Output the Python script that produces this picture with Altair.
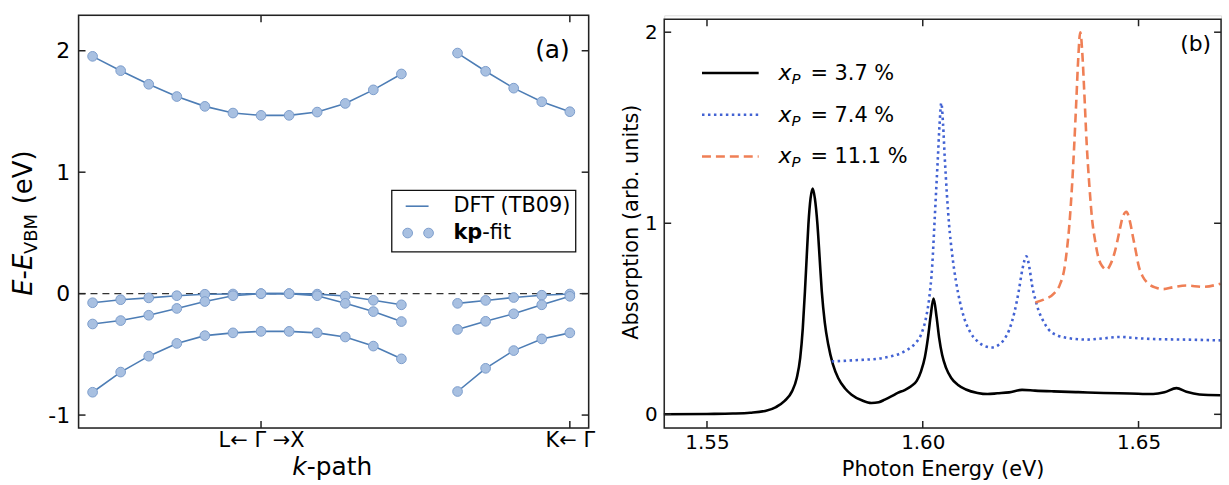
import altair as alt
import pandas as pd

FONT = "DejaVu Sans"

# ---------------- panel (a): band structure ----------------
k_left = [0, 1, 2, 3, 4, 5, 6, 7, 8, 9, 10, 11]
k_right = [13, 14, 15, 16, 17]

cb_left = [1.954, 1.836, 1.724, 1.623, 1.542, 1.487, 1.468, 1.468, 1.495, 1.566, 1.678, 1.809]
cb_right = [1.981, 1.831, 1.692, 1.580, 1.498]
hh_left = [-0.075, -0.050, -0.035, -0.017, -0.005, -0.003, 0.0, 0.0, -0.004, -0.020, -0.055, -0.092]
hh_right = [-0.080, -0.056, -0.032, -0.013, -0.003]
lh_left = [-0.250, -0.222, -0.178, -0.122, -0.065, -0.017, 0.0, 0.0, -0.017, -0.080, -0.148, -0.230]
lh_right = [-0.295, -0.228, -0.166, -0.092, -0.022]
so_left = [-0.812, -0.646, -0.515, -0.410, -0.346, -0.323, -0.311, -0.311, -0.323, -0.357, -0.432, -0.537]
so_right = [-0.806, -0.615, -0.469, -0.373, -0.323]

a_yticks = [-1, 0, 1, 2]
a_xticks = [6, 17]

rows = []
for name, ks, es in [("cbL", k_left, cb_left), ("cbR", k_right, cb_right),
                     ("hhL", k_left, hh_left), ("hhR", k_right, hh_right),
                     ("lhL", k_left, lh_left), ("lhR", k_right, lh_right),
                     ("soL", k_left, so_left), ("soR", k_right, so_right)]:
    for k, e in zip(ks, es):
        rows.append({"band": name, "k": k, "E": e})
df_a = pd.DataFrame(rows)

# ---------------- panel (b): absorption ----------------
x_37 = [1.5400, 1.5500, 1.5560, 1.5600, 1.5635, 1.5660, 1.5680, 1.5697, 1.5708, 1.5716,
        1.5722, 1.5727, 1.5731, 1.5735, 1.5740, 1.5745, 1.5750, 1.5756, 1.5761, 1.5766,
        1.5773, 1.5781, 1.5792, 1.5804, 1.5820, 1.5835, 1.5860, 1.5881, 1.5898, 1.5912,
        1.5928, 1.5942, 1.5958, 1.5973, 1.5986, 1.5996, 1.6005, 1.6012, 1.6018, 1.6025,
        1.6032, 1.6038, 1.6045, 1.6054, 1.6066, 1.6081, 1.6100, 1.6127, 1.6150, 1.6173,
        1.6200, 1.6230, 1.6260, 1.6303, 1.6360, 1.6419, 1.6480, 1.6534, 1.6560, 1.6588,
        1.6611, 1.6641, 1.6690]
y_37 = [0.000, 0.002, 0.004, 0.008, 0.018, 0.038, 0.070, 0.120, 0.190, 0.295,
        0.450, 0.644, 0.820, 0.993, 1.130, 1.182, 1.130, 0.993, 0.820, 0.644,
        0.480, 0.365, 0.260, 0.190, 0.135, 0.103, 0.072, 0.059, 0.063, 0.077,
        0.095, 0.112, 0.127, 0.147, 0.175, 0.225, 0.300, 0.400, 0.510, 0.606,
        0.510, 0.400, 0.310, 0.243, 0.190, 0.155, 0.130, 0.112, 0.106, 0.110,
        0.115, 0.128, 0.124, 0.120, 0.116, 0.112, 0.109, 0.106, 0.115, 0.137,
        0.118, 0.104, 0.100]

x_74 = [1.5789, 1.5850, 1.5900, 1.5927, 1.5950, 1.5965, 1.5982, 1.5996, 1.6007, 1.6015,
        1.6022, 1.6027, 1.6031, 1.6035, 1.6039, 1.6043, 1.6047, 1.6051, 1.6056, 1.6061,
        1.6068, 1.6077, 1.6086, 1.6096, 1.6110, 1.6127, 1.6145, 1.6160, 1.6175, 1.6188,
        1.6200, 1.6212, 1.6222, 1.6231, 1.6240, 1.6247, 1.6253, 1.6261, 1.6269, 1.6280,
        1.6292, 1.6310, 1.6327, 1.6380, 1.6420, 1.6457, 1.6500, 1.6534, 1.6611, 1.6690]
y_74 = [0.277, 0.284, 0.292, 0.304, 0.320, 0.339, 0.370, 0.417, 0.500, 0.609,
        0.780, 0.993, 1.170, 1.342, 1.520, 1.630, 1.520, 1.342, 1.150, 0.993,
        0.840, 0.696, 0.590, 0.504, 0.430, 0.382, 0.356, 0.350, 0.362, 0.390,
        0.440, 0.530, 0.640, 0.760, 0.827, 0.770, 0.679, 0.600, 0.539, 0.485,
        0.443, 0.415, 0.403, 0.391, 0.398, 0.405, 0.398, 0.394, 0.391, 0.387]

x_111 = [1.6261, 1.6280, 1.6303, 1.6318, 1.6328, 1.6334, 1.6340, 1.6346, 1.6351, 1.6356,
         1.6360, 1.6365, 1.6370, 1.6374, 1.6380, 1.6386, 1.6392, 1.6400, 1.6407, 1.6416,
         1.6426, 1.6436, 1.6445, 1.6455, 1.6463, 1.6472, 1.6480, 1.6487, 1.6494, 1.6500,
         1.6510, 1.6520, 1.6541, 1.6557, 1.6580, 1.6611, 1.6649, 1.6690]
y_111 = [0.585, 0.600, 0.630, 0.680, 0.760, 0.860, 1.000, 1.200, 1.410, 1.650,
         1.850, 2.000, 1.880, 1.700, 1.410, 1.200, 1.030, 0.900, 0.820, 0.775,
         0.757, 0.790, 0.850, 0.950, 1.030, 1.060, 1.010, 0.930, 0.850, 0.780,
         0.720, 0.690, 0.662, 0.655, 0.665, 0.674, 0.667, 0.684]

b_xticks = [1.55, 1.60, 1.65]
b_yticks = [0, 1, 2]

series_labels = ["3.7", "7.4", "11.1"]

one = pd.DataFrame({"d": [0]})

# ---------------- helpers ----------------
def txt(s, x, y, size, align="left", baseline="middle", **kw):
    return alt.Chart(one).mark_text(
        text=s, font=FONT, fontSize=size, color="black", align=align,
        baseline=baseline, **kw
    ).encode(x=alt.value(x), y=alt.value(y))


def hrule(x1, x2, y, **kw):
    return alt.Chart(one).mark_rule(**kw).encode(
        x=alt.value(x1), x2=alt.value(x2), y=alt.value(y))


# ================= panel (a) =================
W1, H1 = 513, 415
TL = 7
xs_a = alt.Scale(domain=[-0.5, 17.67], nice=False, zero=False)
ys_a = alt.Scale(domain=[-1.106, 2.292], nice=False, zero=False)
ax_ax = alt.Axis(values=a_xticks,
                 labelExpr="datum.value == 6 ? 'L\u2190 \u0393 \u2192X' : 'K\u2190 \u0393'",
                 title=None, grid=False, domain=False, ticks=False, tickSize=0,
                 labelPadding=2, labelFontSize=21, labelFont=FONT, labelColor="black")
ax_ay = alt.Axis(values=a_yticks, labelExpr="replace(datum.label, '\u2212', '-')",
                 title=None, grid=False, domain=False, ticks=False, tickSize=0,
                 labelPadding=9, labelFontSize=22, labelFont=FONT, labelColor="black")
XA = alt.X("k:Q", scale=xs_a, axis=ax_ax)
YA = alt.Y("E:Q", scale=ys_a, axis=ax_ay)

LINE_C = "#4d7db5"
PT_FILL = "#a8c0e1"
PT_STROKE = "#7d9dcc"

a_lines = alt.Chart(df_a).mark_line(color=LINE_C, strokeWidth=1.6).encode(
    x=XA, y=YA, detail="band:N")
a_pts = alt.Chart(df_a).mark_point(filled=True, size=95, fill=PT_FILL, fillOpacity=1,
                                   stroke=PT_STROKE, strokeWidth=1, opacity=1).encode(
    x=XA, y=YA)
a_zero = alt.Chart(pd.DataFrame({"E": [0]})).mark_rule(
    color="#333333", strokeWidth=1.3, strokeDash=[7, 5]).encode(
    y=YA, x=alt.value(0), x2=alt.value(W1))
a_frame = alt.Chart(one).mark_rect(fillOpacity=0, stroke="#222222", strokeWidth=1.5).encode(
    x=alt.value(0), x2=alt.value(W1), y=alt.value(0), y2=alt.value(H1))
df_ayt = pd.DataFrame({"E": a_yticks})
df_axt = pd.DataFrame({"k": a_xticks})
a_tk = [
    alt.Chart(df_ayt).mark_rule(color="#222222", strokeWidth=1.5).encode(
        y=YA, x=alt.value(0), x2=alt.value(TL)),
    alt.Chart(df_ayt).mark_rule(color="#222222", strokeWidth=1.5).encode(
        y=YA, x=alt.value(W1 - TL), x2=alt.value(W1)),
    alt.Chart(df_axt).mark_rule(color="#222222", strokeWidth=1.5).encode(
        x=XA, y=alt.value(H1 - TL), y2=alt.value(H1)),
    alt.Chart(df_axt).mark_rule(color="#222222", strokeWidth=1.5).encode(
        x=XA, y=alt.value(0), y2=alt.value(TL)),
]

# legend of (a)
a_leg_box = alt.Chart(one).mark_rect(fill="white", stroke="#111111", strokeWidth=1.3).encode(
    x=alt.value(315), x2=alt.value(500), y=alt.value(176), y2=alt.value(238))
a_leg_line = hrule(329, 352, 192, color=LINE_C, strokeWidth=1.6)
a_leg_p1 = alt.Chart(one).mark_point(filled=True, size=95, fill=PT_FILL, fillOpacity=1,
                                     stroke=PT_STROKE, strokeWidth=1, opacity=1).encode(
    x=alt.value(331), y=alt.value(219))
a_leg_p2 = alt.Chart(one).mark_point(filled=True, size=95, fill=PT_FILL, fillOpacity=1,
                                     stroke=PT_STROKE, strokeWidth=1, opacity=1).encode(
    x=alt.value(352), y=alt.value(219))
a_leg_t1 = txt("DFT (TB09)", 377, 192, 21)
a_leg_t2 = txt("kp", 377, 219, 21, fontWeight="bold")
a_leg_t3 = txt("-fit", 406, 219, 21)

a_label = txt("(a)", 494, 35, 25, align="right")

# y title  E-E_VBM (eV)   (rotated, reads bottom to top)
YT_X = -47
a_yt = [
    txt("E", YT_X, 282, 26, baseline="alphabetic", angle=270, fontStyle="italic"),
    txt("-", YT_X, 265.6, 26, baseline="alphabetic", angle=270),
    txt("E", YT_X, 256.2, 26, baseline="alphabetic", angle=270, fontStyle="italic"),
    txt("VBM", YT_X + 5, 240, 18, baseline="alphabetic", angle=270),
    txt("(eV)", YT_X, 190, 26, baseline="alphabetic", angle=270),
]
# x title  k-path
a_xt = [
    txt("k", 215, 462, 25, baseline="alphabetic", fontStyle="italic"),
    txt("-path", 229.5, 462, 25, baseline="alphabetic"),
]

panel_a = alt.layer(
    a_zero, a_lines, a_pts, a_frame, *a_tk,
    a_leg_box, a_leg_line, a_leg_p1, a_leg_p2, a_leg_t1, a_leg_t2, a_leg_t3,
    a_label, *a_yt, *a_xt
).properties(width=W1, height=H1)

# ================= panel (b) =================
W2, H2 = 560, 415
TOP2 = 4
xs_b = alt.Scale(domain=[1.54009, 1.66912], nice=False, zero=False)
ys_b = alt.Scale(domain=[-0.0713, 2.0885], nice=False, zero=False)
ax_bx = alt.Axis(values=b_xticks, format=".2f", title="Photon Energy (eV)",
                 grid=False, domain=False, ticks=False, tickSize=0,
                 labelPadding=5, labelFontSize=20, labelFont=FONT, labelColor="black",
                 titleFont=FONT, titleFontSize=21, titleFontWeight="normal",
                 titleColor="black", titlePadding=6)
ax_by = alt.Axis(values=b_yticks, format="d", title="Absorption (arb. units)",
                 grid=False, domain=False, ticks=False, tickSize=0,
                 labelPadding=7, labelFontSize=20, labelFont=FONT, labelColor="black",
                 titleFont=FONT, titleFontSize=21, titleFontWeight="normal",
                 titleColor="black", titlePadding=3)
XB = alt.X("x:Q", scale=xs_b, axis=ax_bx)
YB = alt.Y("y:Q", scale=ys_b, axis=ax_by)

C_BLUE = "#4262d3"
C_ORANGE = "#ef7f55"

b_l1 = alt.Chart(pd.DataFrame({"x": x_37, "y": y_37})).mark_line(
    color="black", strokeWidth=2.6, interpolate="monotone").encode(x=XB, y=YB)
b_l2 = alt.Chart(pd.DataFrame({"x": x_74, "y": y_74})).mark_line(
    color=C_BLUE, strokeWidth=2.6, strokeDash=[2.5, 3.5], interpolate="monotone").encode(x=XB, y=YB)
b_l3 = alt.Chart(pd.DataFrame({"x": x_111, "y": y_111})).mark_line(
    color=C_ORANGE, strokeWidth=2.6, strokeDash=[9, 5], interpolate="monotone").encode(x=XB, y=YB)

b_frame = alt.Chart(one).mark_rect(fillOpacity=0, stroke="#222222", strokeWidth=1.5).encode(
    x=alt.value(0), x2=alt.value(W2), y=alt.value(TOP2), y2=alt.value(H2))
df_byt = pd.DataFrame({"y": b_yticks})
df_bxt = pd.DataFrame({"x": b_xticks})
b_tk = [
    alt.Chart(df_byt).mark_rule(color="#222222", strokeWidth=1.5).encode(
        y=YB, x=alt.value(0), x2=alt.value(TL)),
    alt.Chart(df_byt).mark_rule(color="#222222", strokeWidth=1.5).encode(
        y=YB, x=alt.value(W2 - TL), x2=alt.value(W2)),
    alt.Chart(df_bxt).mark_rule(color="#222222", strokeWidth=1.5).encode(
        x=XB, y=alt.value(H2 - TL), y2=alt.value(H2)),
    alt.Chart(df_bxt).mark_rule(color="#222222", strokeWidth=1.5).encode(
        x=XB, y=alt.value(TOP2), y2=alt.value(TOP2 + TL)),
]

# legend of (b)
leg_rows = [58, 100, 142]
b_leg = [
    hrule(38, 95, leg_rows[0], color="black", strokeWidth=2.6),
    hrule(38, 95, leg_rows[1], color=C_BLUE, strokeWidth=2.6, strokeDash=[2.5, 3.5]),
    hrule(38, 95, leg_rows[2], color=C_ORANGE, strokeWidth=2.6, strokeDash=[9, 5]),
]
for ly, lab in zip(leg_rows, series_labels):
    b_leg += [
        txt("x", 115, ly + 7, 22, baseline="alphabetic", fontStyle="italic"),
        txt("P", 128, ly + 11, 15, baseline="alphabetic", fontStyle="italic"),
        txt("= " + lab + " %", 147, ly + 7, 21, baseline="alphabetic"),
    ]
b_label = txt("(b)", 550, 29, 22, align="right")

panel_b = alt.layer(
    b_l1, b_l2, b_l3, b_frame, *b_tk, *b_leg, b_label
).properties(width=W2, height=H2)

chart = alt.hconcat(panel_a, panel_b, spacing=76, bounds="flush").properties(
    padding={"left": 10, "top": 12, "right": 2, "bottom": 2}
).configure_view(stroke=None).configure(background="white")

chart.save("out.html", embed_options={"renderer": "svg", "actions": False})
